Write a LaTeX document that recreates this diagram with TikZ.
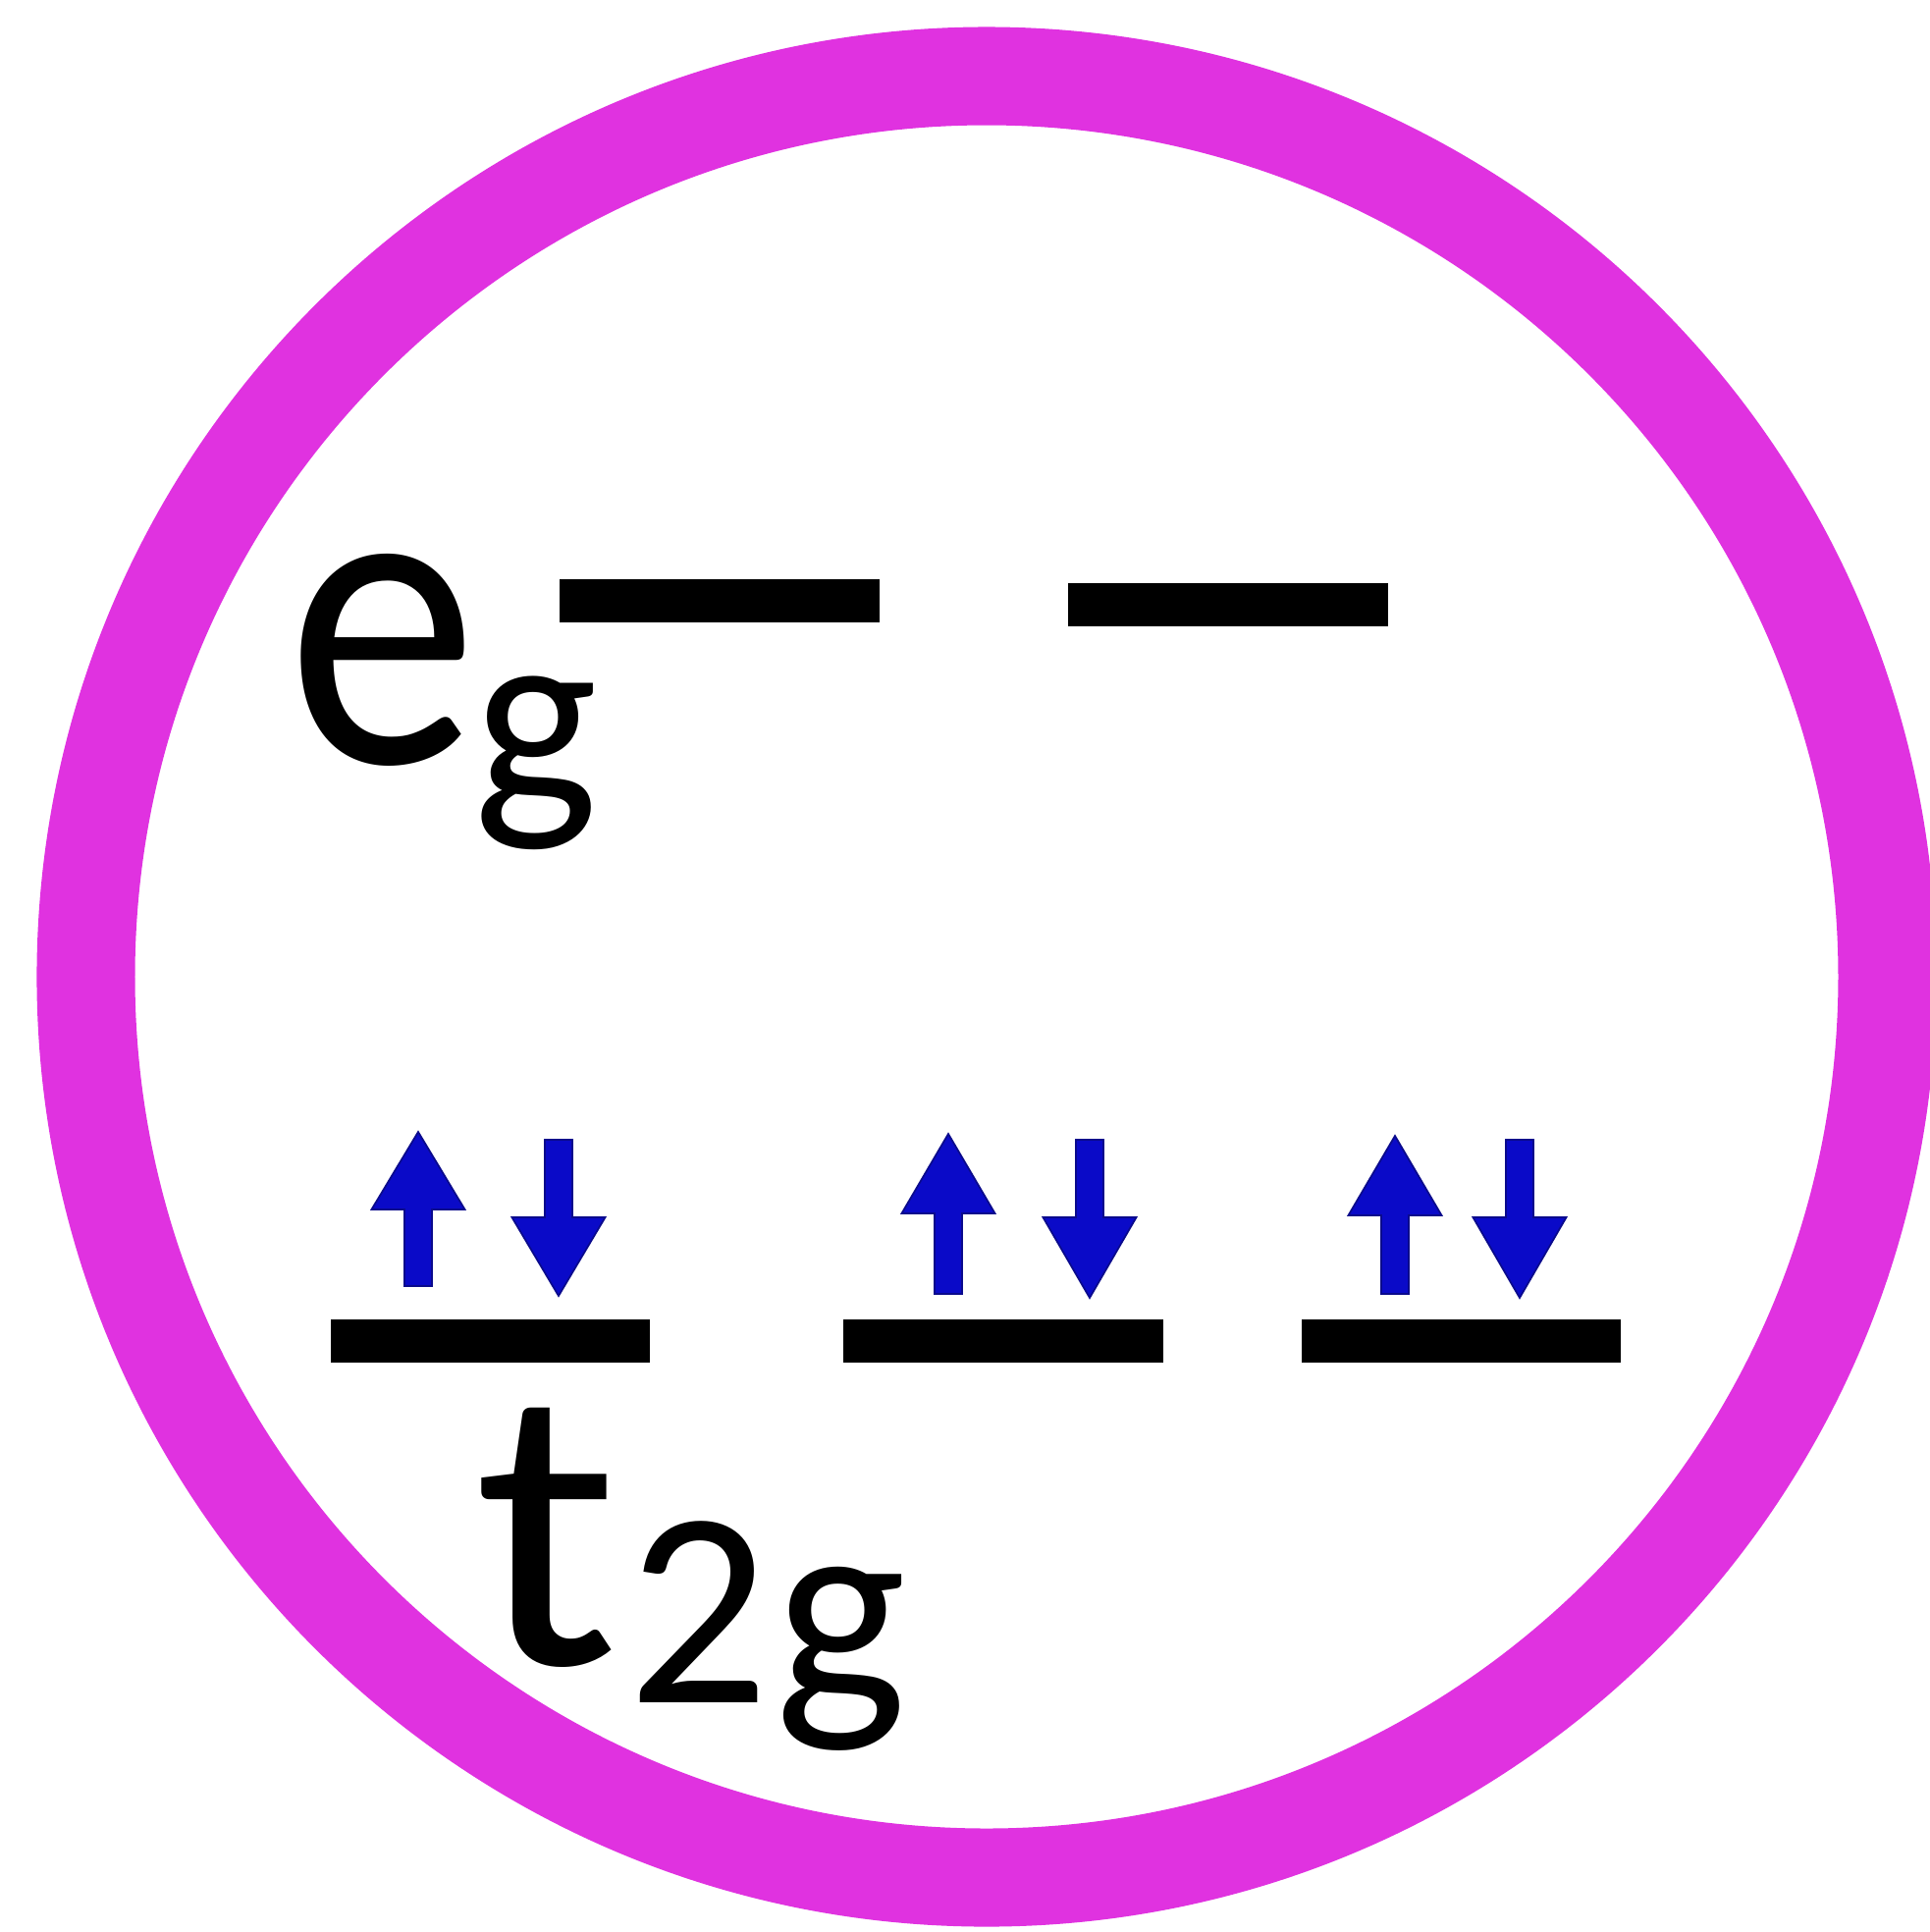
\documentclass[tikz,border=0pt]{standalone}
\usepackage{fontspec}
\setmainfont{Carlito}
\definecolor{ringcol}{RGB}{224,50,224}
\definecolor{spincol}{RGB}{10,10,200}
\definecolor{spinedge}{RGB}{10,10,140}
\newcommand\spinup[4]{\filldraw[spinfill] (#1-14,#4) -- (#1-14,#3) -- (#1-47.5,#3) -- (#1,#2) -- (#1+47.5,#3) -- (#1+14,#3) -- (#1+14,#4) -- cycle;}
\newcommand\spindown[4]{\filldraw[spinfill] (#1-14,#2) -- (#1-14,#3) -- (#1-47.5,#3) -- (#1,#4) -- (#1+47.5,#3) -- (#1+14,#3) -- (#1+14,#2) -- cycle;}
\begin{document}
\begin{tikzpicture}[x=0.01cm,y=-0.01cm,
  level/.style={fill=black, draw=none, inner sep=0, outer sep=0, minimum height=0.44cm, minimum width=3.25cm},
  spinfill/.style={fill=spincol, draw=spinedge, line width=0.5pt, line join=miter},
  lbl/.style={inner sep=0, outer sep=0, anchor=base west, text=black}]
\useasboundingbox (0,0) rectangle (1966,1968);
\fill[white] (0,0) rectangle (1966,1968);
\draw[ringcol, line width=1cm] (1005,995) circle[radius=9.17cm];
% e_g levels
\node[level] (eg1) at (733,612) {};
\node[level] (eg2) at (1251,616) {};
% t2g levels
\node[level] (t1) at (499.5,1366) {};
\node[level] (t2) at (1022,1366) {};
\node[level] (t3) at (1488.5,1366) {};
% spins
\spinup{426}{1153}{1232}{1310}
\spindown{569}{1161}{1240}{1320}
\spinup{966}{1155}{1236}{1318}
\spindown{1110}{1161}{1240}{1322}
\spinup{1421}{1157}{1238}{1318}
\spindown{1548}{1161}{1240}{1322}
% labels
\node[lbl, font=\fontsize{125}{125}\selectfont] (eglab) at (292.5,777)
  {\scalebox{0.89}[1]{e}\kern-1.3pt\raisebox{-11.95pt}{\fontsize{76.5}{76.5}\selectfont g}};
\node[lbl, font=\fontsize{125}{125}\selectfont] (tlab) at (483,1695)
  {\scalebox{1}[0.94]{t}\kern2.56pt\raisebox{-11.1pt}{\fontsize{81}{81}\selectfont 2\kern1.7pt g}};
\end{tikzpicture}
\end{document}
